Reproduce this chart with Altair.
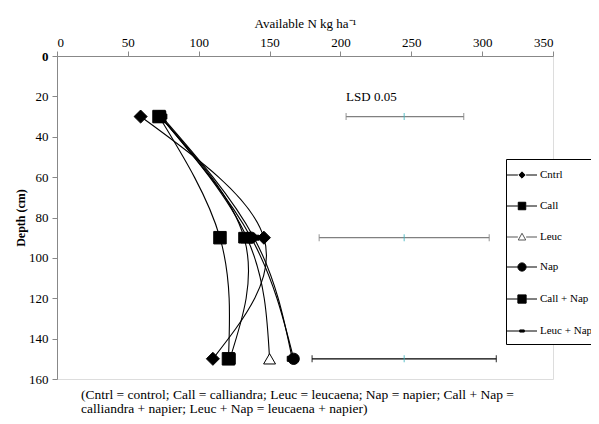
import altair as alt
import pandas as pd

# ---- data ----
treatments = ["Cntrl", "Call", "Leuc", "Nap", "Call + Nap", "Leuc + Nap"]
depths = [30, 90, 150]
cntrl = [59, 146, 110]
call = [72, 115, 121]
leuc = [73, 134, 150]
nap = [73, 137, 167]
call_nap = [73, 132, 122]
leuc_nap = [74, 139, 166]

lsd_depth = [30, 90, 150]
lsd_low = [204, 185, 180]
lsd_high = [287, 305, 310]
lsd_center = [245, 245, 245]
lsd_label = ["LSD 0.05"]
lsd_label_x = [204]
lsd_label_depth = [20.5]

caption = [
    "(Cntrl = control;  Call = calliandra; Leuc = leucaena;  Nap = napier;  Call + Nap =",
    "calliandra + napier;  Leuc + Nap = leucaena + napier)",
]

series = [cntrl, call, leuc, nap, call_nap, leuc_nap]
rows = []
for t, vals in zip(treatments, series):
    for d, v in zip(depths, vals):
        rows.append({"treatment": t, "depth": d, "N": v})
df = pd.DataFrame(rows)
lsd = pd.DataFrame({"depth": lsd_depth, "low": lsd_low, "high": lsd_high, "center": lsd_center})
lab = pd.DataFrame({"text": lsd_label, "N": lsd_label_x, "depth": lsd_label_depth})

SERIF = "Liberation Serif"

x_scale = alt.Scale(domain=[0, 350], nice=False, zero=False)
y_scale = alt.Scale(domain=[0, 160], reverse=True, nice=False, zero=False)

x_enc = alt.X(
    "N:Q", scale=x_scale,
    axis=alt.Axis(orient="top", values=[0, 50, 100, 150, 200, 250, 300, 350],
                  title="Available N kg ha\u207b\u00b9", grid=False, tickSize=5,
                  labelPadding=2, titlePadding=6, labelFontSize=13, titleFontSize=13,
                  titleFontWeight="normal", labelFont=SERIF, titleFont=SERIF),
)
y_enc = alt.Y(
    "depth:Q", scale=y_scale,
    axis=alt.Axis(values=[0, 20, 40, 60, 80, 100, 120, 140, 160], title="Depth (cm)",
                  grid=False, tickSize=5, labelPadding=4, titleX=-30,
                  labelFontSize=13, titleFontSize=12, titleFontWeight="bold",
                  labelFont=SERIF, titleFont=SERIF,
                  labelFontWeight=alt.ExprRef(expr="datum.value == 0 ? 'bold' : 'normal'")),
)

marker_shapes = ["diamond", "square", "triangle-up", "circle", "square",
                 "M-1,-0.5L1,-0.5L1,0.5L-1,0.5Z"]
marker_sizes = [170, 100, 90, 220, 280, 16]
fills = ["black", "black", "white", "black", "black", "black"]
strokes = ["black", "black", "#555555", "black", "black", "black"]

seg = "M-2,0L-0.55,0M0.55,0L2,0"
legend_paths = [
    seg + "M-0.42,0L0,-0.42L0.42,0L0,0.42Z",
    seg + "M-0.5,-0.5L0.5,-0.5L0.5,0.5L-0.5,0.5Z",
    seg + "M0,-0.5L0.5,0.4L-0.5,0.4Z",
    seg + "M-0.55,0A0.55,0.55 0 1,0 0.55,0A0.55,0.55 0 1,0 -0.55,0Z",
    seg + "M-0.55,-0.55L0.55,-0.55L0.55,0.55L-0.55,0.55Z",
    "M-2,0L2,0M-0.3,-0.14L0.3,-0.14L0.3,0.14L-0.3,0.14Z",
]

legend_def = alt.Legend(
    title=None, orient="none", legendX=449, legendY=103,
    strokeColor="black", fillColor="white", padding=8, rowPadding=17,
    symbolSize=225, symbolStrokeWidth=1, symbolOpacity=1,
    labelOffset=10, labelFont=SERIF, labelFontSize=11, labelColor="black",
)

base = alt.Chart(df)

lines = base.mark_line(interpolate="natural", color="black", strokeWidth=1.1).encode(
    x=x_enc, y=y_enc, detail="treatment:N", order=alt.Order("depth:Q"),
)

points = base.mark_point(filled=False, color="black", strokeWidth=1, opacity=1).encode(
    x="N:Q", y="depth:Q",
    shape=alt.Shape("treatment:N", scale=alt.Scale(domain=treatments, range=marker_shapes), legend=None),
    size=alt.Size("treatment:N", scale=alt.Scale(domain=treatments, range=marker_sizes), legend=None),
    fill=alt.Fill("treatment:N", scale=alt.Scale(domain=treatments, range=fills), legend=None),
)

legend_layer = base.transform_filter("false").mark_point(
    filled=False, strokeWidth=1, opacity=1
).encode(
    x="N:Q", y="depth:Q",
    shape=alt.Shape("treatment:N", scale=alt.Scale(domain=treatments, range=legend_paths), legend=legend_def),
    fill=alt.Fill("treatment:N", scale=alt.Scale(domain=treatments, range=fills), legend=legend_def),
    stroke=alt.Stroke("treatment:N", scale=alt.Scale(domain=treatments, range=strokes), legend=legend_def),
)

lsd_color = alt.condition("datum.depth < 150", alt.value("#808080"), alt.value("black"))
lsd_base = alt.Chart(lsd)
lsd_rule = lsd_base.mark_rule(strokeWidth=1.3).encode(
    x="low:Q", x2="high:Q", y="depth:Q", color=lsd_color)
lsd_lo = lsd_base.mark_tick(orient="vertical", size=7, thickness=1.2).encode(
    x="low:Q", y="depth:Q", color=lsd_color)
lsd_hi = lsd_base.mark_tick(orient="vertical", size=7, thickness=1.2).encode(
    x="high:Q", y="depth:Q", color=lsd_color)
lsd_mid = lsd_base.mark_tick(orient="vertical", size=7, thickness=1.2, color="#3fb3bd").encode(
    x="center:Q", y="depth:Q")
lsd_text = alt.Chart(lab).mark_text(align="left", baseline="middle", font=SERIF,
                                    fontSize=13, color="black").encode(
    x="N:Q", y="depth:Q", text="text:N")

chart = alt.layer(
    lines, lsd_rule, lsd_lo, lsd_hi, lsd_mid, lsd_text, points, legend_layer
).resolve_scale(
    shape="independent", fill="independent", size="independent", stroke="independent"
).properties(
    width=496, height=323,
    autosize=alt.AutoSizeParams(type="none"),
    padding={"left": 49, "top": 48, "right": 38, "bottom": 37},
    title=alt.TitleParams(text=caption, orient="bottom", anchor="start", font=SERIF,
                          fontSize=13.5, fontWeight="normal", dx=67, offset=2,
                          lineHeight=13.5, color="black"),
).configure_view(
    stroke="black", strokeWidth=1
).configure_axis(
    domainColor="black", tickColor="black", labelColor="black", titleColor="black",
    labelFont=SERIF, titleFont=SERIF, domainWidth=1, tickWidth=1,
).configure(background="white")

chart.save("out.html", embed_options={"renderer": "svg", "actions": False})
